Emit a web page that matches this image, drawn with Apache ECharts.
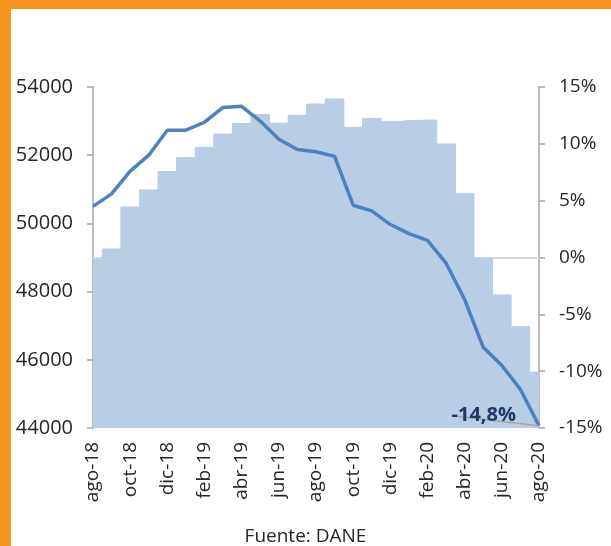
<!DOCTYPE html>
<html>
<head>
<meta charset="utf-8">
<script src="https://cdn.jsdelivr.net/npm/echarts@6/dist/echarts.min.js"></script>
<style>
  html, body { margin: 0; padding: 0; background: #fff; }
  #chart { width: 611px; height: 546px; }
</style>
</head>
<body>
<div id="chart"></div>
<script>
// meses ago-18 .. ago-20
const months = ['ago-18','sep-18','oct-18','nov-18','dic-18','ene-19','feb-19','mar-19','abr-19','may-19','jun-19','jul-19',
  'ago-19','sep-19','oct-19','nov-19','dic-19','ene-20','feb-20','mar-20','abr-20','may-20','jun-20','jul-20','ago-20']

// barras (eje izquierdo)
const levels = [48950, 49250, 50480, 50980, 51520, 51930, 52230, 52620, 52930, 53190, 52940, 53170,
  53500, 53650, 52820, 53080, 52990, 53020, 53030, 52330, 50880, 48980, 47900, 46970, 45640]

// variacion % (eje derecho)
const growth = [4.5, 5.6, 7.6, 9.0, 11.2, 11.2, 11.9, 13.2, 13.3, 12.0, 10.4, 9.5,
  9.3, 8.9, 4.6, 4.1, 2.9, 2.1, 1.5, -0.5, -3.7, -7.9, -9.5, -11.6, -14.8]

const leftTicks = { min: 44000, max: 54000, step: 2000 }
const rightTicks = { min: -15, max: 15, step: 5 }

const font = "'Open Sans', 'Noto Sans', sans-serif"
const axisGray = '#a6a6a6'
const last = growth.length - 1

const chart = echarts.init(document.getElementById('chart'))

const lineData = growth.map((v, i) => {
  if (i !== last) return v
  return {
    value: v,
    label: {
      show: true,
      position: 'left',
      distance: 4,
      formatter: p => p.value.toFixed(1).replace('.', ',') + '%',
      fontFamily: font,
      fontSize: 20,
      fontWeight: 'bold',
      color: '#1f3864'
    },
    labelLine: { show: true, length2: 0, lineStyle: { color: axisGray, width: 1.5 } }
  }
})

chart.setOption({
  animation: false,
  textStyle: { fontFamily: font },
  graphic: [
    { type: 'rect', left: 0, top: 0, shape: { width: 611, height: 9 }, style: { fill: '#f7941d' } },
    { type: 'rect', left: 0, top: 0, shape: { width: 11, height: 546 }, style: { fill: '#f7941d' } },
    { type: 'text', left: 'center', top: 527, style: { text: 'Fuente: DANE', font: '19px ' + font, fill: '#262626' } }
  ],
  grid: { left: 93, right: 72, top: 87, bottom: 118, containLabel: false },
  xAxis: {
    type: 'category',
    data: months,
    boundaryGap: false,
    axisLine: { lineStyle: { color: '#d9d9d9', width: 2 } },
    axisTick: { show: false },
    axisLabel: {
      interval: 1,
      rotate: 90,
      margin: 14,
      fontSize: 19,
      color: '#262626',
      fontFamily: font
    }
  },
  yAxis: [
    {
      type: 'value',
      min: leftTicks.min, max: leftTicks.max, interval: leftTicks.step,
      axisLine: { show: true, lineStyle: { color: axisGray, width: 1.5 } },
      axisTick: { show: true, length: 6, lineStyle: { color: axisGray, width: 1.5 } },
      splitLine: { show: false },
      axisLabel: { margin: 20, fontSize: 20, color: '#262626', fontFamily: font, formatter: v => String(v) }
    },
    {
      type: 'value',
      position: 'right',
      min: rightTicks.min, max: rightTicks.max, interval: rightTicks.step,
      axisLine: { show: true, lineStyle: { color: axisGray, width: 1.5 } },
      axisTick: { show: true, length: 6, lineStyle: { color: axisGray, width: 1.5 } },
      splitLine: { show: false },
      axisLabel: { margin: 20, fontSize: 19, color: '#262626', fontFamily: font, formatter: '{value}%' }
    }
  ],
  series: [
    {
      // columnas sin separacion: escalon centrado en cada mes
      type: 'line',
      data: levels,
      yAxisIndex: 0,
      step: 'middle',
      symbol: 'none',
      lineStyle: { width: 1, color: '#b9cde5' },
      areaStyle: { color: '#b9cde5', opacity: 1, origin: 'start' },
      z: 1
    },
    {
      type: 'line',
      data: lineData,
      yAxisIndex: 1,
      symbol: 'circle',
      symbolSize: 0,
      showSymbol: true,
      itemStyle: { color: '#4f81bd' },
      lineStyle: { color: '#4f81bd', width: 3.5 },
      labelLayout: p => (p.dataIndex === last ? { dx: -19, dy: -10 } : {}),
      z: 3
    }
  ]
})
</script>
</body>
</html>
